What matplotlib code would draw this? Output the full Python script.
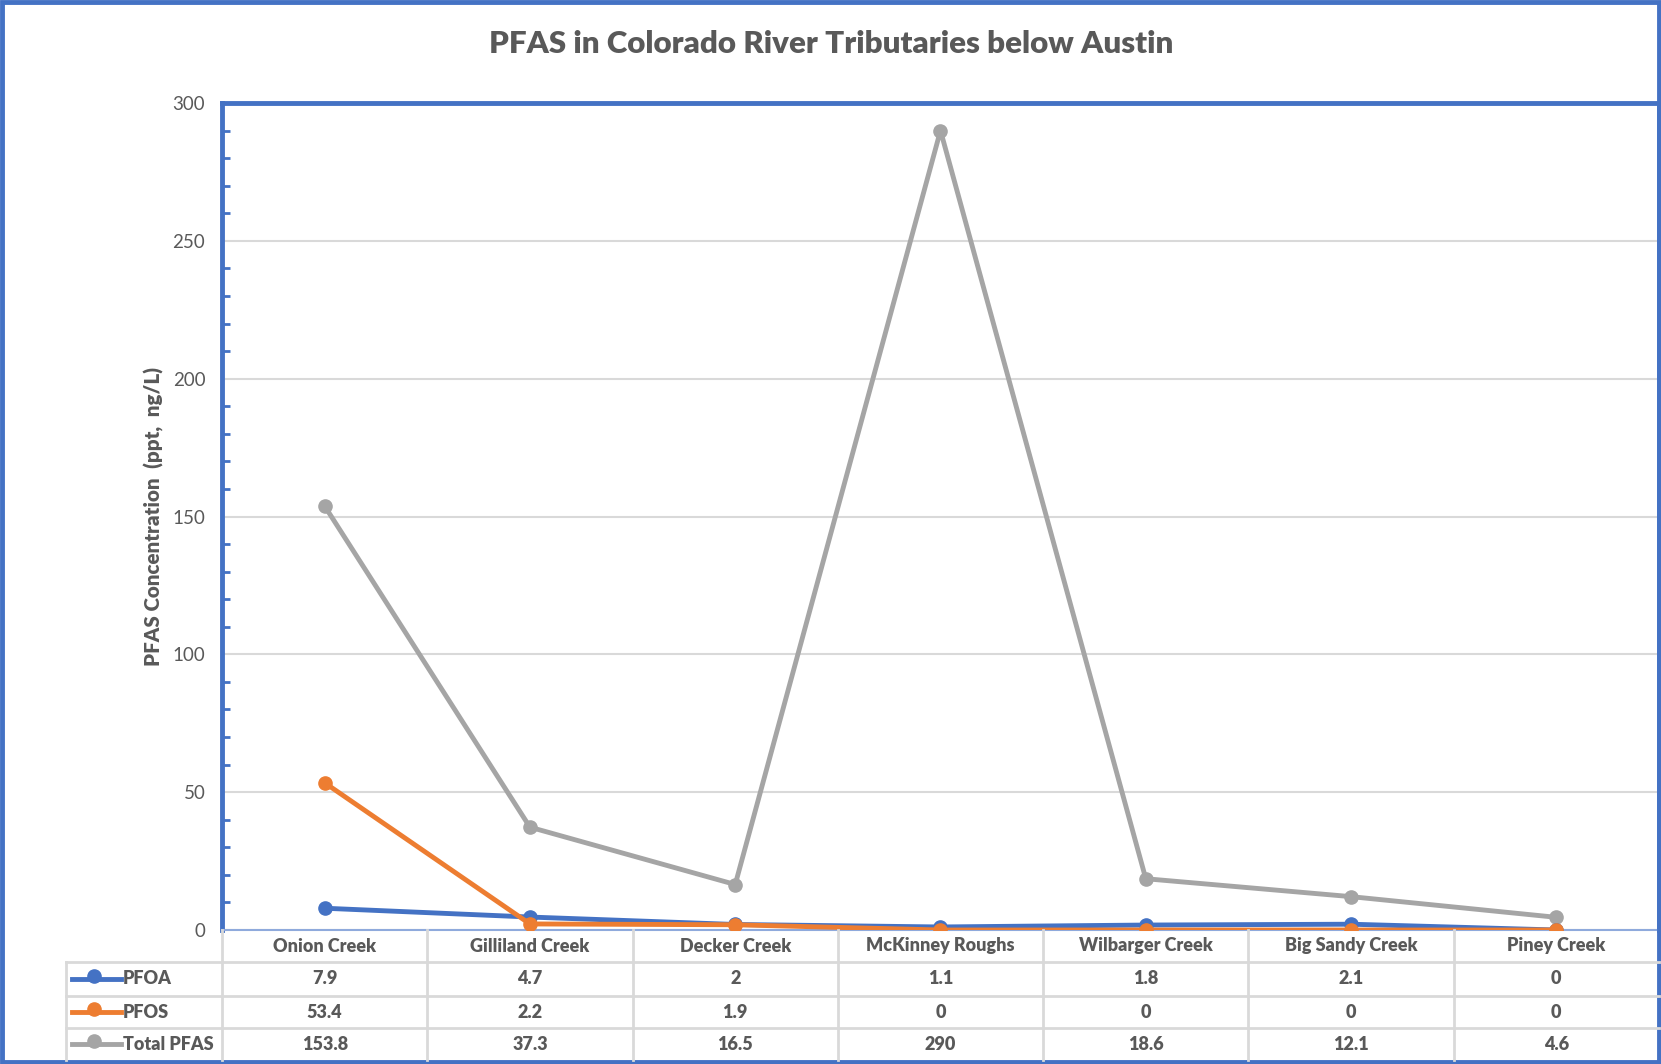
import matplotlib
matplotlib.use("Agg")
import matplotlib.pyplot as plt
from matplotlib.lines import Line2D
from matplotlib.patches import Rectangle

categories = ["Onion Creek", "Gilliland Creek", "Decker Creek", "McKinney Roughs",
              "Wilbarger Creek", "Big Sandy Creek", "Piney Creek"]
pfoa = [7.9, 4.7, 2, 1.1, 1.8, 2.1, 0]
pfos = [53.4, 2.2, 1.9, 0, 0, 0, 0]
total = [153.8, 37.3, 16.5, 290, 18.6, 12.1, 4.6]
pfoa_lbl = ["7.9", "4.7", "2", "1.1", "1.8", "2.1", "0"]
pfos_lbl = ["53.4", "2.2", "1.9", "0", "0", "0", "0"]
total_lbl = ["153.8", "37.3", "16.5", "290", "18.6", "12.1", "4.6"]
series_names = ["PFOA", "PFOS", "Total PFAS"]
colors = ["#4472C4", "#ED7D31", "#A5A5A5"]

W, H = 1661, 1064
plt.rcParams['font.family'] = ['Lato', 'DejaVu Sans']
TXT = "#595959"
BLUE = "#4472C4"
GRID = "#D9D9D9"
BOLD = 800

fig = plt.figure(figsize=(W / 100, H / 100), dpi=100)

def fx(x):
    return x / W

def fy(y):
    return 1 - y / H

# plot area (pixels)
L, R, T, B = 222, 1659, 103, 930
ax = fig.add_axes([fx(L), fy(B), fx(R) - fx(L), fy(T) - fy(B)])
xs = list(range(len(categories)))
ax.plot(xs, total, color=colors[2], lw=3.5, marker='o', ms=9.5, zorder=3)
ax.plot(xs, pfoa, color=colors[0], lw=3.5, marker='o', ms=9.5, zorder=4)
ax.plot(xs, pfos, color=colors[1], lw=3.5, marker='o', ms=9.5, zorder=5)
ax.set_xlim(-0.5, len(categories) - 0.5)
ax.set_ylim(0, 300)
ax.set_yticks(range(0, 301, 50))
ax.set_yticks(range(0, 301, 10), minor=True)
ax.yaxis.grid(True, which='major', color=GRID, lw=1.5)
ax.set_axisbelow(True)
ax.set_xticks([])
ax.tick_params(axis='y', which='both', direction='in', color=BLUE, width=2)
ax.tick_params(axis='y', which='major', length=0, labelsize=13.5, labelcolor=TXT, pad=12)
ax.tick_params(axis='y', which='minor', length=6)
for s in ['left', 'top', 'right']:
    ax.spines[s].set_color(BLUE)
    ax.spines[s].set_linewidth(3.5)
ax.spines['bottom'].set_color("#8FAADC")
ax.spines['bottom'].set_linewidth(1.5)
ax.set_ylabel("PFAS Concentration  (ppt,  ng/L)", fontsize=14.8, fontweight=BOLD,
              color=TXT, labelpad=6)

fig.text(fx(831), fy(44), "PFAS in Colorado River Tributaries below Austin",
         ha='center', va='center', fontsize=22.5, fontweight=BOLD, color=TXT)

# outer border
fig.add_artist(Rectangle((fx(2), fy(H - 2)), fx(W - 4), fy(2) - fy(H - 2),
                         fill=False, ec=BLUE, lw=3.5, transform=fig.transFigure))

# data table
colw = (R - L) / len(categories)
rows = [930, 962, 996, 1028, 1060]
TL = 66
def hline(x0, x1, y):
    fig.add_artist(Line2D([fx(x0), fx(x1)], [fy(y), fy(y)], color=GRID, lw=2,
                          transform=fig.transFigure))
def vline(x, y0, y1):
    fig.add_artist(Line2D([fx(x), fx(x)], [fy(y0), fy(y1)], color=GRID, lw=2,
                          transform=fig.transFigure))
for y in rows[1:4]:
    hline(TL, R, y)
vline(TL, rows[1], rows[4])
for i in range(len(categories)):
    vline(L + colw * i, rows[0], rows[4])

FS = 13
for i, cat in enumerate(categories):
    cx = L + colw * (i + 0.5)
    fig.text(fx(cx), fy((rows[0] + rows[1]) / 2), cat, ha='center', va='center',
             fontsize=FS, fontweight=BOLD, color=TXT)
    for r, lbls in enumerate([pfoa_lbl, pfos_lbl, total_lbl]):
        fig.text(fx(cx), fy((rows[r + 1] + rows[r + 2]) / 2), lbls[i], ha='center',
                 va='center', fontsize=FS, fontweight=BOLD, color=TXT)

for r, (name, c) in enumerate(zip(series_names, colors)):
    yc = (rows[r + 1] + rows[r + 2]) / 2
    fig.add_artist(Line2D([fx(72), fx(121)], [fy(yc), fy(yc)], color=c, lw=3.5,
                          transform=fig.transFigure))
    fig.add_artist(Line2D([fx(94)], [fy(yc - 3)], color=c, marker='o', ms=9.5,
                          transform=fig.transFigure))
    fig.text(fx(123), fy(yc), name, ha='left', va='center', fontsize=FS,
             fontweight=BOLD, color=TXT)

fig.savefig("out.png", dpi=100, facecolor='white')
